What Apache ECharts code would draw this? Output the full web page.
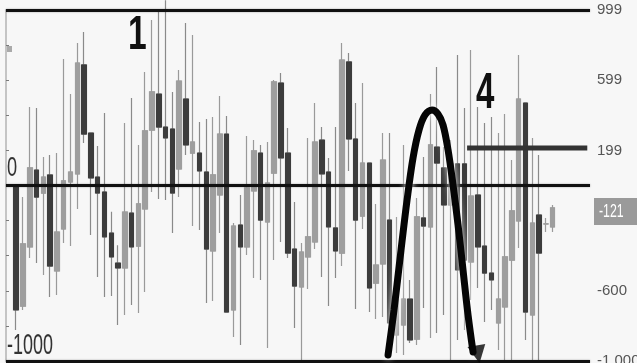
<!DOCTYPE html>
<html><head><meta charset="utf-8">
<script src="https://cdn.jsdelivr.net/npm/echarts/dist/echarts.min.js"></script>
<style>html,body{margin:0;padding:0;background:#f7f7f7}#c{width:637px;height:363px}</style>
</head><body><div id="c"></div>
<script>
// ---- data ----
const opens  = [0,-687,-350,88,-43,60,-487,-248,20,66, 687,299,48,-37,-271,-442,-470,-157,-345,-134, 316,521,333,322,94,493,185,185,77,-373, -54,293,-709,-225,-350,-31,185,-208,71,584, 185,-362,-578,-407,-322,259,77,-242,-385,704, 265,-174,128,-556,-447,-197,-851,-795,-647,-875, -185,-236,219,100,-111,123,123,-436,-54,-345, -499,-783,-692,-425,-202,470,-738,-168,-219,-236];
const closes = [-709,-333,100,-66,48,-459,-265,26,77,698, 293,43,-43,-293,-407,-470,-151,-350,-105,311, 533,333,271,-43,595,231,248,83,-362,60, 293,-721,-231,-350,-14,197,-197,14,590,157, -385,-573,-379,-293,248,66,-236,-373,715,265, -197,128,-584,-453,145,-783,-652,-647,-880,-179, -231,231,128,-111,123,-481,-425,-60,-350,-499, -538,-647,-407,-145,493,-721,-214,-385,-219,-128];
const lows   = [-823,-709,-413,-442,-510,-635,-624,-328,-345,-134, 242,-282,-521,-635,-630,-795,-738,-681,-726,-607, -37,-77,-83,-271,-66,174,-231,-254,-670,-658, -271,-721,-863,-909,-396,-527,-538,-926,-425,-322, -413,-812,-1000,-590,-362,-521,-687,-527,-459,83, -704,-248,-721,-761,-749,-966,-954,-966,-897,-909, -698,-869,-840,-738,-994,-880,-823,-652,-584,-778, -709,-937,-994,-1000,-356,-880,-994,-994,-265,-265];
const highs  = [0,-66,447,442,162,174,185,721,521,812, 875,299,225,413,-150,-340,356,499,231,647, 943,989,1055,533,658,926,858,362,379,390, 510,396,-214,-54,282,259,231,248,601,641, 328,-94,-328,271,470,333,157,333,812,755, 470,584,128,-105,299,299,-179,231,-538,-71, 162,521,675,219,259,744,442,772,447,356, 390,299,407,145,744,470,271,174,-185,-111];

const yTickValues = [1000, 600, 200, -200, -600, -1000];
const yTickLabels = ['999', '599', '199', '-200', '-600', '-1 000'];
const levelLines = [1000, 0, -1000];
const lastPriceText = '-121';

// hand-drawn annotations (x in slot units, y in axis values)
const curveX = [56.26,57.14,58.17,59.06,59.94,60.82,61.71,62.74,63.62,64.36,65.1,65.83,66.57,67.3,68.04,68.78];
const curveY = [-966,-709,-368,-83,157,316,402,430,407,345,202,3,-225,-481,-738,-949];
const arrowX = [69.5];
const arrowY = [-962];
const segX = [67.9, 85.6];
const segY = [214, 214];

const N_SLOTS = 86;
const slots = Array.from({length: N_SLOTS}, (_, i) => String(i));

const candleData = opens.map((o, i) => [i + 1, o, closes[i], lows[i], highs[i]]);
const bodyData = opens.map((o, i) => [i + 1, o, closes[i], Math.min(o, closes[i]), Math.max(o, closes[i])]);

const chart = echarts.init(document.getElementById('c'));
const narrow = '"Liberation Sans Narrow","Liberation Sans",Arial,sans-serif';
chart.setOption({
  backgroundColor: '#f7f7f7',
  animation: false,
  grid: {left: 6, right: 47, top: 10, bottom: 2, containLabel: false, outerBoundsMode: 'none'},
  xAxis: [
    {type: 'category', data: slots, show: false, boundaryGap: true},
    {type: 'value', min: 0, max: N_SLOTS, show: false}
  ],
  yAxis: [
    {type: 'value', position: 'right', offset: 3, min: -1000, max: 1000, interval: 200,
     axisLine: {show: true, lineStyle: {color: '#7a7a7a', width: 1}},
     axisTick: {show: true, length: 3, lineStyle: {color: '#7a7a7a'}},
     splitLine: {show: false},
     axisLabel: {margin: 4, color: '#555', fontSize: 15, fontFamily: narrow,
       showMinLabel: true, showMaxLabel: true, hideOverlap: false,
       formatter: v => { const k = yTickValues.indexOf(v); return k >= 0 ? yTickLabels[k] : ''; }}},
    {type: 'value', position: 'left', min: -1000, max: 1000,
     axisLine: {show: true, lineStyle: {color: '#c4c4c4', width: 2}},
     axisTick: {show: false}, axisLabel: {show: false}, splitLine: {show: false}}
  ],
  series: [
    {type: 'candlestick', xAxisIndex: 0, yAxisIndex: 0, data: candleData,
     encode: {x: 0, y: [1, 2, 3, 4]}, barWidth: 5, clip: false,
     itemStyle: {color: '#9e9e9e', color0: '#8e8e8e', borderColor: '#9a9a9a', borderColor0: '#8a8a8a', borderWidth: 1.2},
     markLine: {silent: true, symbol: ['none', 'none'], label: {show: false},
       lineStyle: {color: '#111', width: 3, type: 'solid', shadowColor: 'rgba(0,0,0,0.35)', shadowBlur: 2},
       data: levelLines.map(v => ({yAxis: v}))}},
    {type: 'candlestick', xAxisIndex: 0, yAxisIndex: 0, data: bodyData,
     encode: {x: 0, y: [1, 2, 3, 4]}, barWidth: 5, clip: false,
     itemStyle: {color: '#9e9e9e', color0: '#3c3c3c', borderColor: '#9e9e9e', borderColor0: '#3c3c3c', borderWidth: 1}},
    {type: 'line', xAxisIndex: 1, yAxisIndex: 0, data: segX.map((x, i) => [x, segY[i]]),
     symbol: 'none', lineStyle: {color: '#333', width: 5}, z: 5},
    {type: 'line', xAxisIndex: 1, yAxisIndex: 0, data: curveX.map((x, i) => [x, curveY[i]]),
     smooth: 0.35, symbol: 'none', clip: false,
     lineStyle: {color: '#050505', width: 7, cap: 'round', shadowColor: 'rgba(255,255,255,0.9)', shadowBlur: 6}, z: 6},
    {type: 'scatter', xAxisIndex: 1, yAxisIndex: 0, data: arrowX.map((x, i) => [x, arrowY[i]]),
     symbol: 'triangle', symbolSize: [18, 18], symbolRotate: 190, clip: false,
     itemStyle: {color: '#050505'}, z: 7}
  ],
  graphic: [
    {type: 'text', x: 18, y: -10, scaleX: 0.6, z: 100, style: {text: '1000', font: '30px "Liberation Sans"', fill: '#777', verticalAlign: 'middle'}},
    {type: 'rect', x: 7, y: 46, z: 100, shape: {width: 5, height: 6}, style: {fill: '#aaa'}},
    {type: 'text', x: 128, y: 36, scaleX: 0.7, z: 100, style: {text: '1', font: 'bold 48px "Liberation Sans"', fill: '#111', verticalAlign: 'middle'}},
    {type: 'text', x: 476, y: 94, scaleX: 0.66, z: 100, style: {text: '4', font: 'bold 50px "Liberation Sans"', fill: '#111', verticalAlign: 'middle'}},
    {type: 'text', x: 7, y: 168, scaleX: 0.65, z: 100, style: {text: '0', font: '28px "Liberation Sans"', fill: '#333', verticalAlign: 'middle'}},
    {type: 'text', x: 7, y: 346, scaleX: 0.6, z: 100, style: {text: '-1000', font: '30px "Liberation Sans"', fill: '#333', verticalAlign: 'middle'}},
    {type: 'rect', x: 594, y: 198, z: 100, shape: {width: 43, height: 27}, style: {fill: '#9a9a9a'}},
    {type: 'text', x: 599, y: 212, scaleX: 0.65, z: 101, style: {text: lastPriceText, font: '19px "Liberation Sans"', fill: '#fff', verticalAlign: 'middle'}}
  ]
});
</script></body></html>
